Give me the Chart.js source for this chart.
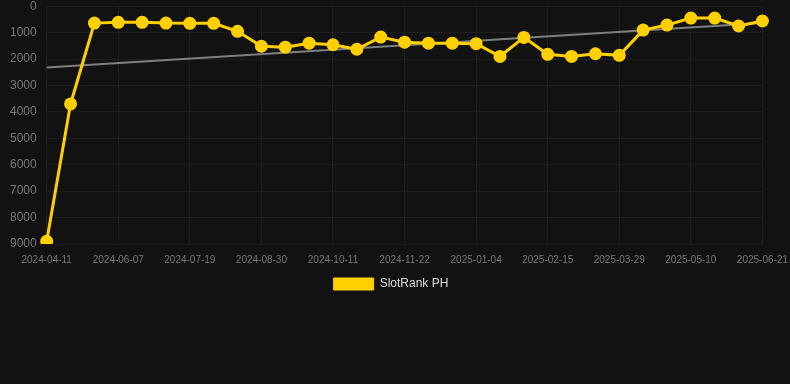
<!DOCTYPE html>
<html>
<head>
<meta charset="utf-8">
<script src="https://cdn.jsdelivr.net/npm/chart.js@4"></script>
<style>
  html, body { margin: 0; padding: 0; background: #121212; overflow: hidden; }
  #wrap { width: 798px; height: 311px; position: relative; top: -11px; }
</style>
</head>
<body>
<div id="wrap"><canvas id="rankChart"></canvas></div>
<script>
// dates of the points (every third one is shown on the axis)
let labels = ['2024-04-11', '2024-04-30', '2024-05-19', '2024-06-07', '2024-06-21', '2024-07-05', '2024-07-19',
    '2024-08-02', '2024-08-16', '2024-08-30', '2024-09-13', '2024-09-27', '2024-10-11', '2024-10-25',
    '2024-11-08', '2024-11-22', '2024-12-06', '2024-12-20', '2025-01-04', '2025-01-18', '2025-02-01',
    '2025-02-15', '2025-03-01', '2025-03-15', '2025-03-29', '2025-04-12', '2025-04-26', '2025-05-10',
    '2025-05-24', '2025-06-07', '2025-06-21'];
// rank values
let rank = [8900, 3700, 640, 610, 610, 640, 650, 650, 950, 1515, 1550, 1400, 1460, 1630, 1170, 1360,
    1400, 1400, 1420, 1900, 1180, 1820, 1900, 1800, 1860, 905, 715, 450, 450, 750, 560];
// trend line, only its two ends
let trendStart = 2320;
let trendEnd = 640;
let yTicks = [0, 1000, 2000, 3000, 4000, 5000, 6000, 7000, 8000, 9000];

let trend = labels.map((d, i) => i == 0 ? trendStart : (i == labels.length - 1 ? trendEnd : null));

// canvas is a bit wider than the window, pull the legend back to the middle
let shiftLegend = {
    id: 'shiftLegend',
    afterUpdate(c) {
        if (c.legend) { c.legend.left -= 8; c.legend.right -= 8; }
    }
};

let ctx = document.getElementById('rankChart').getContext('2d');
let chart = new Chart(ctx, {
    type: 'line',
    data: {
        labels: labels,
        datasets: [{
            label: 'SlotRank PH',
            data: rank,
            borderColor: '#ffd000',
            backgroundColor: '#ffd000',
            borderWidth: 3,
            pointRadius: 5,
            pointHoverRadius: 6,
            tension: 0,
            order: 1
        }, {
            label: 'trend',
            data: trend,
            borderColor: 'rgba(140,140,140,0.9)',
            borderWidth: 2,
            pointRadius: 0,
            spanGaps: true,
            order: 2
        }]
    },
    options: {
        responsive: true,
        maintainAspectRatio: false,
        animation: false,
        scales: {
            x: {
                grid: { color: 'rgba(255,255,255,0.05)', drawTicks: false },
                border: { display: false },
                ticks: {
                    color: '#777',
                    font: { size: 10, family: 'Arial, Liberation Sans' },
                    autoSkip: false,
                    maxRotation: 0,
                    padding: 10,
                    callback: function (v, i) { return i % 3 == 0 ? labels[i] : null; }
                }
            },
            y: {
                reverse: true,
                min: 0,
                max: 9000,
                afterBuildTicks: axis => { axis.ticks = yTicks.map(v => ({ value: v })); },
                grid: { color: 'rgba(255,255,255,0.05)', drawTicks: false },
                border: { display: false },
                ticks: {
                    color: '#777',
                    font: { size: 12, family: 'Arial, Liberation Sans' },
                    padding: 10,
                    callback: v => String(v)
                }
            }
        },
        plugins: {
            legend: {
                position: 'bottom',
                labels: {
                    color: '#ddd',
                    padding: 2,
                    font: { size: 12, family: 'Arial, Liberation Sans' },
                    filter: item => item.text != 'trend',
                    generateLabels: function (c) {
                        let items = Chart.defaults.plugins.legend.labels.generateLabels(c);
                        items.forEach(it => { it.lineWidth = 1; });
                        return items;
                    }
                }
            },
            tooltip: { enabled: false }
        }
    },
    plugins: [shiftLegend]
});
</script>
</body>
</html>
